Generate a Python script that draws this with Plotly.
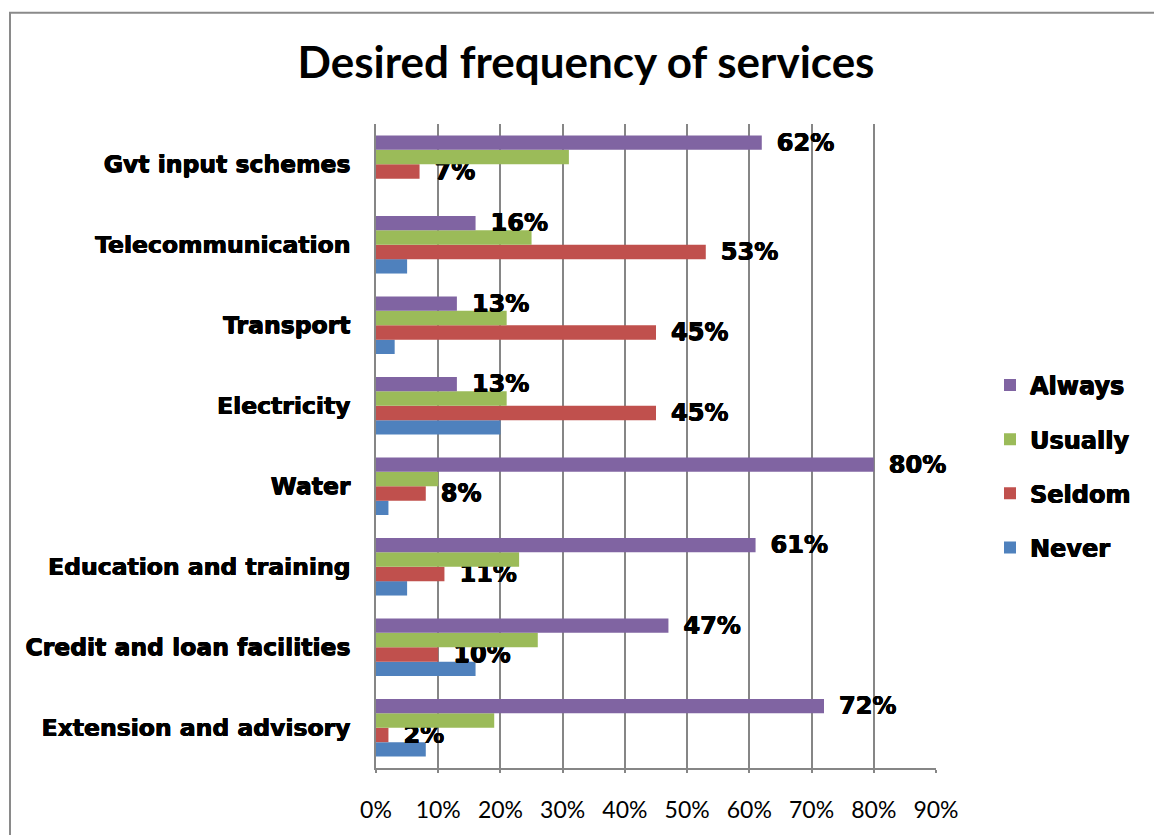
import plotly.graph_objects as go

# Services, listed bottom to top as they appear on the category axis
services = [
    "Extension and advisory",
    "Credit and loan facilities",
    "Education and training",
    "Water",
    "Electricity",
    "Transport",
    "Telecommunication",
    "Gvt input schemes",
]

# Share of respondents (%) per desired frequency, same order as services
always = [72, 47, 61, 80, 13, 13, 16, 62]
usually = [19, 26, 23, 10, 21, 21, 25, 31]
seldom = [2, 10, 11, 8, 45, 45, 53, 7]
never = [8, 16, 5, 2, 20, 3, 5, 0]

x_ticks = [0, 10, 20, 30, 40, 50, 60, 70, 80, 90]
x_tick_labels = [f"{t}%" for t in x_ticks]

# Drawn bottom-to-top inside each group: Never, Seldom, Usually, Always;
# the legend lists them the other way round (rank 1 on top)
series = [
    ("Never", never, "#4F81BD", False, 4),
    ("Seldom", seldom, "#C0504D", True, 3),
    ("Usually", usually, "#9BBB59", False, 2),
    ("Always", always, "#8064A2", True, 1),
]

# heavy black face; a thin shadow thickens the strokes a little
heavy = "0.45px 0 0 #000, -0.45px 0 0 #000, 0 0.3px 0 #000"
label_font = dict(family="DejaVu Sans", size=23.5, color="#000000",
                  weight="bold", shadow=heavy)
value_font = dict(family="DejaVu Sans", size=24, color="#000000",
                  weight="bold", shadow=heavy)

fig = go.Figure()
for name, values, color, labelled, rank in series:
    fig.add_trace(
        go.Bar(
            name=name,
            y=services,
            x=values,
            orientation="h",
            marker=dict(color=color, line=dict(width=0)),
            legendgroup=name,
            legendrank=rank,
            text=[f"\u2002{v}%" for v in values] if labelled else None,
            textposition="outside" if labelled else "none",
            textfont=value_font,
            constraintext="none",
            cliponaxis=False,
            hoverinfo="skip",
        )
    )

# Pixel geometry of the plotting area inside the 1154x835 canvas
W, H = 1154, 835
L, R, T, B = 376, 936, 124, 773
pw, ph = R - L, B - T

def px(xp):
    return (xp - L) / pw

def py(yp):
    return (B - yp) / ph

fig.update_layout(
    width=W,
    height=H,
    margin=dict(l=L, r=W - R, t=T, b=H - B, pad=0),
    paper_bgcolor="#ffffff",
    plot_bgcolor="#ffffff",
    barmode="group",
    bargap=0.285,
    bargroupgap=0,
    title=dict(
        text="<b>Desired frequency of services</b>",
        font=dict(family="Lato", size=44, color="#000000"),
        x=586 / W,
        xanchor="center",
        y=1 - 63 / H,
        yanchor="middle",
    ),
    xaxis=dict(
        range=[0, 90],
        tickvals=x_ticks,
        ticktext=x_tick_labels,
        showgrid=True,
        gridcolor="#868686",
        gridwidth=1.6,
        zeroline=False,
        showline=True,
        linecolor="#868686",
        linewidth=1.6,
        ticks="outside",
        ticklen=3,
        tickcolor="#868686",
        tickwidth=1.6,
        ticklabelstandoff=18,
        tickfont=dict(family="Lato", size=23, color="#000000"),
        fixedrange=True,
    ),
    yaxis=dict(
        categoryorder="array",
        categoryarray=services,
        showgrid=False,
        zeroline=False,
        showline=True,
        linecolor="#868686",
        linewidth=1.6,
        ticks="",
        ticklabelstandoff=19,
        tickfont=label_font,
        fixedrange=True,
    ),
    legend=dict(
        traceorder="grouped",
        font=value_font,
        x=px(990),
        xanchor="left",
        y=py(469),
        yanchor="middle",
        tracegroupgap=20,
        bgcolor="rgba(0,0,0,0)",
        itemclick=False,
        itemdoubleclick=False,
    ),
    showlegend=True,
    shapes=[
        # outer chart frame
        dict(
            type="rect",
            xref="paper",
            yref="paper",
            x0=px(10),
            x1=px(1170),
            y0=py(850),
            y1=py(12),
            line=dict(color="#8a8a8a", width=2),
            fillcolor="rgba(0,0,0,0)",
            layer="below",
        )
    ],
)

fig.write_html("out.html")
